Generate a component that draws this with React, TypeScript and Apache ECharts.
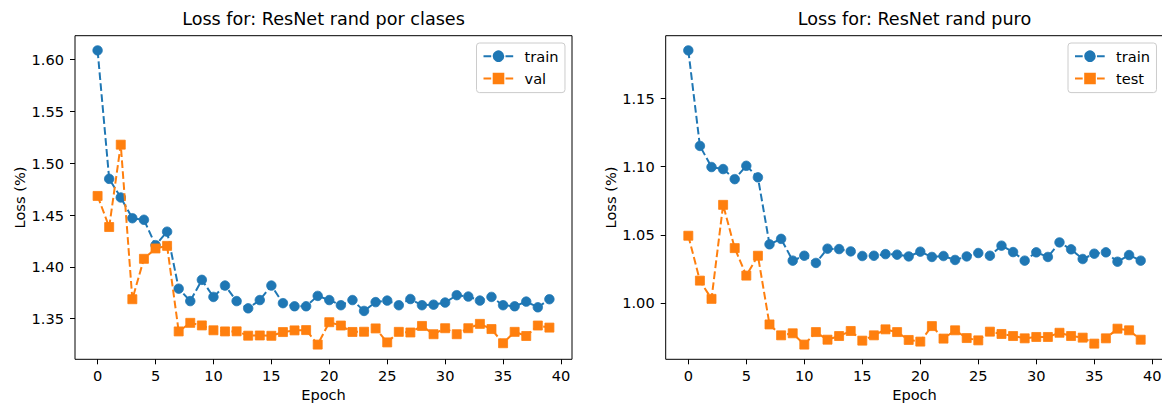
import React, { useEffect, useRef } from "react";
import * as echarts from "echarts";

const epochs: number[] = Array.from({ length: 40 }, (_, i) => i);

const leftTitle = "Loss for: ResNet rand por clases";
const rightTitle = "Loss for: ResNet rand puro";

const leftTrain: number[] = [
  1.609, 1.485, 1.467, 1.447, 1.4455, 1.421, 1.434, 1.379, 1.367, 1.3875,
  1.371, 1.382, 1.367, 1.36, 1.368, 1.382, 1.365, 1.362, 1.362, 1.372,
  1.368, 1.363, 1.368, 1.3575, 1.366, 1.3675, 1.363, 1.369, 1.363, 1.3635,
  1.3656, 1.3727, 1.3714, 1.3675, 1.371, 1.363, 1.362, 1.3665, 1.361, 1.3688,
];
const leftVal: number[] = [
  1.4685, 1.4385, 1.518, 1.3688, 1.4078, 1.4178, 1.4203, 1.3377, 1.346, 1.3435,
  1.3388, 1.3377, 1.3378, 1.3336, 1.3338, 1.3335, 1.3371, 1.3387, 1.339, 1.325,
  1.3466, 1.3434, 1.3372, 1.3374, 1.3406, 1.3271, 1.3373, 1.3367, 1.343, 1.335,
  1.3408, 1.335, 1.3408, 1.345, 1.34, 1.3263, 1.3373, 1.3333, 1.3434, 1.3414,
];
const rightTrain: number[] = [
  1.1855, 1.1153, 1.0998, 1.0983, 1.0909, 1.1007, 1.0922, 1.043, 1.047, 1.031,
  1.0346, 1.0293, 1.0398, 1.0395, 1.0378, 1.0344, 1.0346, 1.0358, 1.0354, 1.0341,
  1.0376, 1.0337, 1.0344, 1.0315, 1.0341, 1.0366, 1.0346, 1.042, 1.0373, 1.031,
  1.0371, 1.0337, 1.0444, 1.0393, 1.0322, 1.0361, 1.0371, 1.0302, 1.0351, 1.031,
];
const rightTest: number[] = [
  1.0493, 1.0163, 1.0029, 1.072, 1.0402, 1.02, 1.0346, 0.9841, 0.9761, 0.9776,
  0.9693, 0.9785, 0.9729, 0.9756, 0.9793, 0.9722, 0.9761, 0.9805, 0.9785, 0.9727,
  0.9715, 0.9829, 0.9737, 0.9798, 0.9741, 0.9724, 0.9788, 0.9771, 0.9756, 0.9739,
  0.9749, 0.9749, 0.978, 0.9756, 0.9744, 0.97, 0.9739, 0.981, 0.9798, 0.9729,
];

const xTicks: number[] = [0, 5, 10, 15, 20, 25, 30, 35, 40];
const leftYTicks: number[] = [1.35, 1.4, 1.45, 1.5, 1.55, 1.6];
const rightYTicks: number[] = [1.0, 1.05, 1.1, 1.15];

const BLUE = "#1f77b4";
const ORANGE = "#ff7f0e";
const FONT = '"DejaVu Sans", "Liberation Sans", sans-serif';
const FS = 14.6;
const TITLE_FS = 17.6;

function paddedRange(values: number[]): [number, number] {
  const mn = Math.min(...values);
  const mx = Math.max(...values);
  const m = (mx - mn) * 0.05;
  return [mn - m, mx + m];
}

export default function App() {
  const ref = useRef<HTMLDivElement>(null);

  useEffect(() => {
    if (!ref.current) return;
    const chart = echarts.init(ref.current, null, { renderer: "svg" });

    const [ly0, ly1] = paddedRange([...leftTrain, ...leftVal]);
    const [ry0, ry1] = paddedRange([...rightTrain, ...rightTest]);
    const xmin = -0.05 * 39;
    const xmax = 39 + 0.05 * 39;

    const gridTop = 35.7;
    const gridH = 323.6;

    const mkX = (gridIndex: number) => ({
      type: "value",
      gridIndex,
      min: xmin,
      max: xmax,
      name: "Epoch",
      nameLocation: "middle",
      nameGap: 28,
      nameMoveOverlap: false,
      nameTextStyle: { fontFamily: FONT, fontSize: FS, color: "#000" },
      axisLine: { show: false, onZero: false },
      splitLine: { show: false },
      axisTick: {
        show: true,
        length: 5,
        customValues: xTicks,
        lineStyle: { color: "#000", width: 1 },
      },
      axisLabel: {
        customValues: xTicks,
        margin: 9,
        fontFamily: FONT,
        fontSize: FS,
        color: "#000",
        formatter: (v: number) => String(Math.round(v)),
      },
    });

    const mkY = (gridIndex: number, min: number, max: number, ticks: number[]) => ({
      type: "value",
      gridIndex,
      min,
      max,
      name: "Loss (%)",
      nameLocation: "middle",
      nameGap: 48,
      nameMoveOverlap: false,
      nameTextStyle: { fontFamily: FONT, fontSize: FS, color: "#000" },
      axisLine: { show: false, onZero: false },
      splitLine: { show: false },
      axisTick: {
        show: true,
        length: 5,
        customValues: ticks,
        lineStyle: { color: "#000", width: 1 },
      },
      axisLabel: {
        customValues: ticks,
        margin: 11,
        fontFamily: FONT,
        fontSize: FS,
        color: "#000",
        formatter: (v: number) => v.toFixed(2),
      },
    });

    const dash = [7.7, 3.3];
    const mkSeries = (
      name: string,
      values: number[],
      color: string,
      symbol: string,
      symbolSize: number,
      idx: number,
      z: number
    ) => ({
      type: "line",
      name,
      xAxisIndex: idx,
      yAxisIndex: idx,
      data: epochs.map((e, i) => [e, values[i]]),
      symbol,
      symbolSize,
      showSymbol: true,
      z,
      itemStyle: { color, borderColor: color, borderWidth: 0.8 },
      lineStyle: { color, width: 2, type: dash },
      emphasis: { disabled: true },
    });

    const legendBase = {
      orient: "vertical",
      top: 43,
      padding: [5.7, 6.5, 6.6, 6],
      itemGap: 7.3,
      itemWidth: 30,
      itemHeight: 12,
      borderColor: "#cccccc",
      borderWidth: 1,
      borderRadius: 3,
      backgroundColor: "rgba(255,255,255,0.8)",
      textStyle: {
        fontFamily: FONT,
        fontSize: FS,
        color: "#000",
        padding: [0, 0, 0, 6],
      },
      selectedMode: false,
    };

    const titleStyle = { fontFamily: FONT, fontSize: TITLE_FS, fontWeight: "normal", color: "#000" };

    chart.setOption({
      animation: false,
      title: [
        { text: leftTitle, left: 323.5, textAlign: "center", top: 10, textStyle: titleStyle, padding: 0 },
        { text: rightTitle, left: 914.5, textAlign: "center", top: 10, textStyle: titleStyle, padding: 0 },
      ],
      legend: [
        { ...legendBase, left: 476.5, data: ["train", "val"] },
        { ...legendBase, left: 1068, data: ["train", "test"] },
      ],
      grid: [
        {
          left: 75,
          top: gridTop,
          width: 497,
          height: gridH,
          show: true,
          borderColor: "#000",
          borderWidth: 1,
          backgroundColor: "transparent",
          containLabel: false,
          outerBoundsMode: "none",
        },
        {
          left: 665.7,
          top: gridTop,
          width: 497.6,
          height: gridH,
          show: true,
          borderColor: "#000",
          borderWidth: 1,
          backgroundColor: "transparent",
          containLabel: false,
          outerBoundsMode: "none",
        },
      ],
      xAxis: [mkX(0), mkX(1)],
      yAxis: [mkY(0, ly0, ly1, leftYTicks), mkY(1, ry0, ry1, rightYTicks)],
      series: [
        mkSeries("train", leftTrain, BLUE, "circle", 9.5, 0, 2),
        mkSeries("val", leftVal, ORANGE, "rect", 9, 0, 3),
        mkSeries("train", rightTrain, BLUE, "circle", 9.5, 1, 2),
        mkSeries("test", rightTest, ORANGE, "rect", 9, 1, 3),
      ],
    });

    return () => chart.dispose();
  }, []);

  return (
    <div
      style={{
        position: "fixed",
        left: 0,
        top: 0,
        width: 1162,
        height: 403,
        overflow: "hidden",
        background: "#fff",
      }}
    >
      <div ref={ref} style={{ width: 1170, height: 403 }} />
    </div>
  );
}
